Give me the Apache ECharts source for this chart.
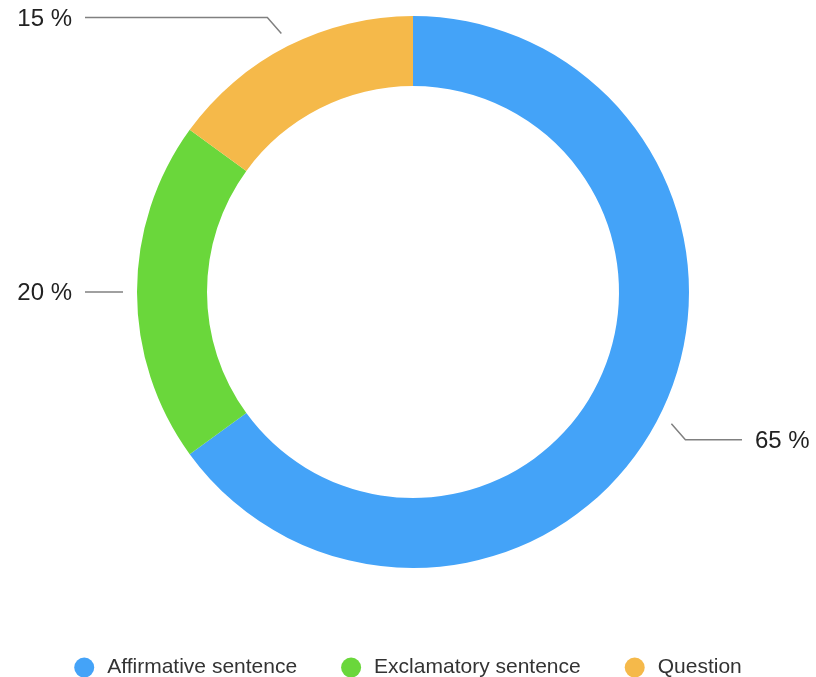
<!DOCTYPE html>
<html>
<head>
<meta charset="utf-8">
<style>
  html, body { margin: 0; padding: 0; background: #ffffff; }
  #chart { width: 816px; height: 677px; }
</style>
<script src="https://cdn.jsdelivr.net/npm/echarts@6/dist/echarts.min.js"></script>
</head>
<body>
<div id="chart"></div>
<script>
// Sentence types and their share (percent)
const categories = ['Affirmative sentence', 'Exclamatory sentence', 'Question'];
const values = [65, 20, 15];
const colors = ['#44A3F8', '#6AD73B', '#F5B94A'];

// Leader lines: diagonal elbow size, x where the horizontal run ends, gap to text
const ELBOW_X = 14;
const ELBOW_Y = 16;
const LINE_END_LEFT = 85;
const LINE_END_RIGHT = 742;
const TEXT_GAP = 13;
const TEXT_NUDGE_Y = 1.5;

const chart = echarts.init(document.getElementById('chart'));

const ringData = categories.map((name, i) => ({
  name,
  value: values[i],
  itemStyle: { color: colors[i] }
}));

const labelData = categories.map((name, i) => ({ name, value: values[i] }));

// Reshape each leader line into: start on the slice -> diagonal elbow -> horizontal run
function leaderLayout(params) {
  const pts = params.labelLinePoints;
  if (!pts) return {};
  const p0 = pts[0];
  const p1 = pts[1];
  const ddx = p1[0] - p0[0];
  const ddy = p1[1] - p0[1];
  const sx = ddx < 0 ? -1 : 1;
  const sy = Math.abs(ddy) < Math.abs(ddx) * 0.2 ? 0 : (ddy < 0 ? -1 : 1);
  const elbow = [p0[0] + sx * ELBOW_X, p0[1] + sy * ELBOW_Y];
  const endX = sx < 0 ? LINE_END_LEFT : LINE_END_RIGHT;
  const end = [endX, elbow[1]];
  return {
    x: endX + sx * TEXT_GAP,
    y: elbow[1] + TEXT_NUDGE_Y,
    align: sx < 0 ? 'right' : 'left',
    verticalAlign: 'middle',
    labelLinePoints: [p0, elbow, end]
  };
}

chart.setOption({
  animation: false,
  legend: {
    top: 652,
    left: 'center',
    icon: 'circle',
    itemWidth: 20,
    itemHeight: 20,
    itemGap: 44,
    textStyle: {
      fontFamily: 'Liberation Sans, Arial, sans-serif',
      fontSize: 21,
      color: '#333',
      padding: [0, 0, 0, 8]
    },
    data: categories
  },
  series: [
    {
      // visible ring
      type: 'pie',
      center: [413, 292],
      radius: [206, 276],
      startAngle: 90,
      clockwise: true,
      silent: true,
      label: { show: false },
      labelLine: { show: false },
      data: ringData
    },
    {
      // transparent carrier for the percentage labels, offset from the ring
      type: 'pie',
      center: [413, 292],
      radius: [0, 290],
      startAngle: 90,
      clockwise: true,
      silent: true,
      itemStyle: { color: 'rgba(0,0,0,0)' },
      label: {
        show: true,
        formatter: '{c} %',
        fontFamily: 'Liberation Sans, Arial, sans-serif',
        fontSize: 24,
        color: '#222',
        bleedMargin: 0,
        distanceToLabelLine: TEXT_GAP
      },
      labelLine: {
        show: true,
        length: 5,
        length2: 5,
        lineStyle: { color: '#808080', width: 1.5 }
      },
      labelLayout: leaderLayout,
      data: labelData
    }
  ]
});
</script>
</body>
</html>
